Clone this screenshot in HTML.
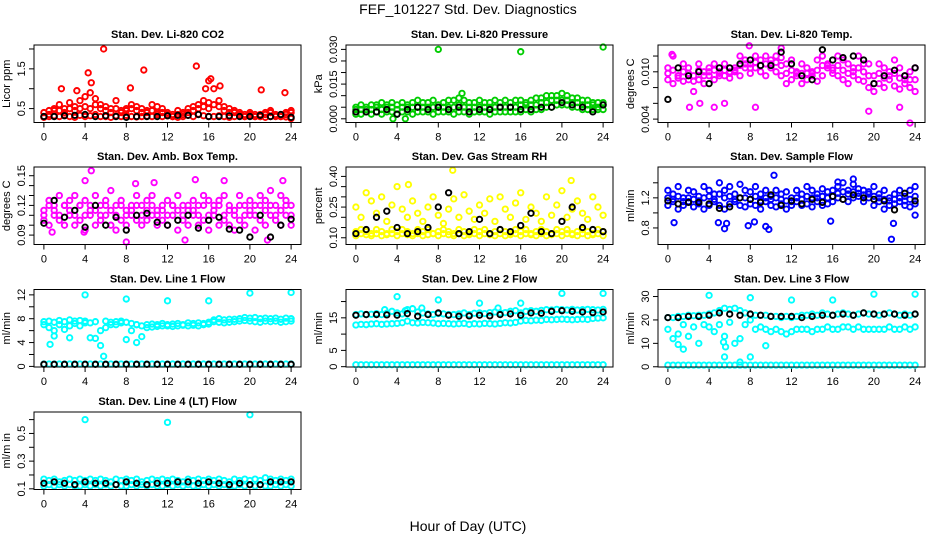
<!DOCTYPE html>
<html><head><meta charset="utf-8"><style>
html,body{margin:0;padding:0;background:#fff;}
svg{display:block;font-family:"Liberation Sans",Arial,sans-serif;}
</style></head><body>
<svg id="chart" width="936" height="540" viewBox="0 0 936 540" xmlns="http://www.w3.org/2000/svg">
<rect width="936" height="540" fill="#fff"/>
<text x="468" y="14" font-size="14" text-anchor="middle">FEF_101227  Std. Dev. Diagnostics</text>
<text x="468" y="531" font-size="14" text-anchor="middle">Hour of Day (UTC)</text>
</svg>
<script>
// ---- data ----
const xTicks = [0,4,8,12,16,20,24];
// CO2
const co2Band = [0.3,0.35,0.45,0.6,0.5,0.65,0.55,0.7,0.8,0.9,0.75,0.6,0.55,0.5,0.7,0.45,0.5,0.6,0.55,0.5,0.45,0.6,0.55,0.5,0.4,0.35,0.45,0.4,0.5,0.55,0.6,0.7,0.65,1.0,0.7,0.55,0.5,0.45,0.4,0.35,0.4,0.35,0.3,0.4,0.45,0.35,0.3,0.4,0.45];
const co2Mid = [0.4,0.45,0.5,0.45,0.4,0.5,0.45,0.5,0.55,0.5,0.6,0.5,0.45,0.4,0.5,0.4,0.45,0.5,0.45,0.4,0.4,0.45,0.4,0.4,0.35,0.3,0.35,0.35,0.4,0.45,0.5,0.55,0.5,0.6,0.55,0.45,0.4,0.4,0.35,0.3,0.35,0.3,0.35,0.35,0.4,0.3,0.35,0.35,0.4];
const co2Base = [0.28,0.3,0.32,0.3,0.34,0.3,0.28,0.33,0.3,0.32,0.35,0.3,0.3,0.28,0.32,0.3,0.33,0.3,0.29,0.3,0.31,0.3,0.35,0.3,0.32,0.3,0.28,0.3,0.33,0.3,0.36,0.32,0.3,0.3,0.32,0.3,0.28,0.3,0.31,0.3,0.32,0.3,0.3,0.28,0.3,0.31,0.3,0.29,0.25];
const co2Out = [[4.3,1.4],[5.8,2.0],[9.7,1.47],[14.8,1.57],[16,1.2],[16.2,1.25],[3.2,0.95],[1.7,1.0],[21.1,0.97],[23.4,0.9],[4.6,1.15],[8.4,1.02],[17.1,1.07],[15.7,1.0]];
const co2Black = [0.3,0.3,0.32,0.33,0.35,0.3,0.32,0.3,0.28,0.3,0.3,0.3,0.32,0.33,0.33,0.35,0.3,0.3,0.32,0.3,0.3,0.33,0.3,0.35,0.28];
// Pressure
const presHi = [0.005,0.006,0.005,0.006,0.006,0.007,0.006,0.007,0.006,0.007,0.006,0.007,0.008,0.007,0.007,0.008,0.006,0.007,0.008,0.008,0.009,0.008,0.007,0.007,0.008,0.007,0.007,0.008,0.007,0.008,0.007,0.008,0.008,0.007,0.008,0.009,0.009,0.010,0.010,0.010,0.011,0.010,0.009,0.009,0.008,0.008,0.007,0.007,0.007];
const presLo = [0.002,0.002,0.003,0.002,0.003,0.002,0.003,0.003,0.002,0.003,0.003,0.002,0.003,0.003,0.003,0.002,0.003,0.003,0.003,0.002,0.003,0.003,0.002,0.003,0.003,0.003,0.002,0.003,0.003,0.003,0.003,0.003,0.003,0.004,0.003,0.004,0.004,0.005,0.005,0.006,0.006,0.006,0.005,0.005,0.004,0.004,0.004,0.004,0.004];
const presMid = [0.004,0.004,0.004,0.004,0.005,0.004,0.005,0.005,0.004,0.005,0.005,0.005,0.005,0.005,0.005,0.005,0.005,0.005,0.005,0.005,0.006,0.005,0.005,0.005,0.005,0.005,0.005,0.005,0.005,0.005,0.005,0.005,0.006,0.006,0.006,0.006,0.007,0.007,0.008,0.008,0.008,0.008,0.007,0.007,0.006,0.006,0.006,0.005,0.006];
const presOut = [[8,0.030],[16,0.029],[24,0.031],[10.3,0.011],[3.6,0.0],[4.8,0.0]];
const presBlack = [0.003,0.003,0.003,0.004,0.002,0.004,0.005,0.004,0.005,0.004,0.005,0.003,0.004,0.004,0.005,0.005,0.004,0.004,0.005,0.005,0.007,0.006,0.005,0.003,0.006];
// Li-820 temp
const ltHi = [0.0105,0.012,0.0095,0.011,0.0105,0.0095,0.011,0.01,0.0105,0.011,0.0095,0.011,0.01,0.0105,0.012,0.0115,0.011,0.012,0.0115,0.012,0.0115,0.012,0.0118,0.011,0.0115,0.01,0.011,0.0105,0.01,0.0115,0.012,0.011,0.0105,0.012,0.0115,0.011,0.0105,0.012,0.011,0.011,0.0095,0.011,0.0105,0.01,0.0115,0.0105,0.0095,0.01,0.0105];
const ltMid = [0.0098,0.0102,0.0092,0.01,0.0098,0.0088,0.0102,0.0095,0.01,0.0102,0.0098,0.0102,0.0098,0.0102,0.0108,0.011,0.0105,0.0112,0.0108,0.011,0.011,0.0112,0.0108,0.0098,0.0102,0.0098,0.0098,0.0098,0.0098,0.0102,0.0108,0.0108,0.0102,0.0108,0.0102,0.0098,0.01,0.0105,0.01,0.0095,0.0085,0.0098,0.0092,0.0095,0.0098,0.0092,0.009,0.009,0.009];
const ltLo = [0.009,0.0085,0.0095,0.0088,0.009,0.0075,0.009,0.0085,0.0095,0.009,0.01,0.0095,0.0092,0.01,0.0095,0.0105,0.0098,0.0105,0.01,0.0095,0.0105,0.01,0.0095,0.0085,0.009,0.0095,0.0085,0.009,0.0095,0.0088,0.0095,0.0105,0.0098,0.0095,0.009,0.0085,0.0095,0.009,0.0088,0.008,0.0075,0.0085,0.008,0.009,0.0082,0.0078,0.0085,0.008,0.0075];
const ltOut = [[2.1,0.0055],[3.1,0.006],[4.5,0.0055],[5.5,0.006],[8.5,0.0055],[19.5,0.005],[22.5,0.0055],[23.5,0.0035],[7.9,0.0133],[0.4,0.0122],[11,0.013]];
const ltBlack = [0.0065,0.0105,0.0095,0.010,0.0085,0.0105,0.0105,0.011,0.0115,0.0108,0.0108,0.0125,0.011,0.0095,0.009,0.0128,0.0115,0.0118,0.012,0.0115,0.0085,0.0095,0.0102,0.0095,0.0105];
// Amb box temp
const abHi = [0.115,0.125,0.12,0.13,0.12,0.125,0.13,0.12,0.125,0.115,0.13,0.12,0.125,0.135,0.12,0.125,0.115,0.12,0.13,0.12,0.125,0.13,0.115,0.12,0.125,0.12,0.13,0.12,0.115,0.125,0.12,0.13,0.125,0.12,0.125,0.13,0.12,0.115,0.13,0.12,0.125,0.12,0.13,0.125,0.135,0.12,0.13,0.125,0.12];
const abMid = [0.11,0.12,0.115,0.11,0.12,0.115,0.11,0.12,0.11,0.12,0.115,0.11,0.12,0.115,0.11,0.12,0.11,0.115,0.12,0.11,0.115,0.12,0.11,0.115,0.11,0.12,0.115,0.11,0.12,0.115,0.11,0.12,0.11,0.115,0.12,0.11,0.115,0.11,0.12,0.11,0.115,0.11,0.12,0.115,0.12,0.11,0.115,0.12,0.11];
const abLo = [0.105,0.1,0.11,0.105,0.1,0.11,0.1,0.105,0.095,0.11,0.1,0.105,0.11,0.1,0.095,0.105,0.1,0.11,0.105,0.1,0.105,0.11,0.1,0.105,0.1,0.11,0.095,0.105,0.1,0.11,0.1,0.105,0.095,0.11,0.1,0.105,0.1,0.095,0.105,0.1,0.11,0.095,0.105,0.1,0.11,0.105,0.1,0.11,0.1];
const abOut = [[4,0.145],[4.6,0.155],[8.9,0.142],[10.7,0.143],[14.7,0.146],[17.5,0.145],[8,0.083],[13.7,0.085],[21.7,0.085],[0.8,0.093],[3.9,0.093],[23.2,0.145]];
const abBlack = [0.102,0.125,0.108,0.115,0.098,0.12,0.1,0.108,0.095,0.11,0.112,0.103,0.1,0.105,0.11,0.097,0.105,0.108,0.096,0.095,0.088,0.11,0.088,0.1,0.106];
// RH
const rhLo = [0.13,0.14,0.13,0.12,0.14,0.13,0.12,0.14,0.13,0.14,0.13,0.12,0.14,0.13,0.14,0.12,0.13,0.14,0.13,0.12,0.14,0.13,0.12,0.14,0.13,0.14,0.12,0.13,0.14,0.13,0.12,0.14,0.13,0.14,0.12,0.13,0.14,0.13,0.12,0.14,0.13,0.14,0.12,0.13,0.14,0.13,0.12,0.14,0.13];
const rhMid = [0.11,0.12,0.115,0.11,0.12,0.11,0.115,0.12,0.11,0.12,0.115,0.11,0.12,0.11,0.115,0.12,0.11,0.12,0.115,0.11,0.12,0.11,0.115,0.12,0.11,0.12,0.115,0.11,0.12,0.11,0.115,0.12,0.11,0.12,0.115,0.11,0.12,0.11,0.115,0.12,0.11,0.12,0.115,0.11,0.12,0.11,0.115,0.12,0.11];
const rhHi = [0.25,0.2,0.32,0.28,0.22,0.3,0.18,0.26,0.35,0.24,0.2,0.28,0.22,0.18,0.25,0.3,0.21,0.17,0.24,0.29,0.2,0.31,0.23,0.19,0.26,0.22,0.29,0.18,0.3,0.24,0.2,0.27,0.32,0.19,0.25,0.22,0.18,0.3,0.21,0.26,0.33,0.2,0.24,0.28,0.22,0.19,0.3,0.25,0.21];
const rhOut = [[9.4,0.43],[20.9,0.38],[5.1,0.36]];
const rhBlack = [0.12,0.14,0.2,0.23,0.15,0.12,0.13,0.15,0.25,0.32,0.12,0.13,0.19,0.12,0.14,0.13,0.16,0.22,0.13,0.12,0.18,0.25,0.15,0.14,0.13];
// Sample flow
const sfHi = [1.3,1.25,1.35,1.2,1.3,1.28,1.22,1.35,1.3,1.25,1.4,1.3,1.35,1.25,1.38,1.3,1.28,1.35,1.25,1.3,1.22,1.3,1.25,1.28,1.2,1.3,1.25,1.35,1.3,1.25,1.32,1.28,1.3,1.35,1.4,1.3,1.38,1.32,1.3,1.28,1.35,1.25,1.3,1.2,1.25,1.3,1.22,1.3,1.35];
const sfMid = [1.2,1.18,1.22,1.15,1.2,1.18,1.16,1.2,1.22,1.18,1.25,1.2,1.22,1.18,1.2,1.2,1.18,1.22,1.16,1.2,1.18,1.2,1.18,1.16,1.15,1.2,1.18,1.22,1.2,1.2,1.22,1.2,1.22,1.26,1.28,1.25,1.28,1.26,1.24,1.25,1.22,1.2,1.18,1.16,1.18,1.2,1.16,1.18,1.22];
const sfLo = [1.1,1.15,1.05,1.1,1.15,1.08,1.12,1.05,1.1,1.15,1.1,1.05,1.12,1.15,1.1,1.08,1.12,1.1,1.05,1.15,1.1,1.08,1.12,1.05,1.1,1.15,1.1,1.12,1.08,1.15,1.1,1.12,1.15,1.2,1.18,1.15,1.2,1.22,1.15,1.2,1.1,1.15,1.05,1.1,1.12,1.15,1.1,1.08,1.12];
const sfOut = [[0.6,0.87],[4.9,0.87],[5.5,0.79],[5.7,0.86],[7.8,0.83],[9.5,0.82],[9.8,0.78],[8.4,0.88],[15.8,0.89],[21.7,0.65],[21.9,0.86],[24,0.97],[10.3,1.5],[16.5,1.41],[18,1.45]];
const sfBlack = [1.16,1.12,1.14,1.14,1.12,1.06,1.08,1.2,1.18,1.14,1.24,1.1,1.16,1.12,1.18,1.14,1.22,1.18,1.24,1.2,1.18,1.16,1.04,1.26,1.16];
// Line 1
const l1Hi = [7.5,7.6,7.4,7.7,7.5,7.8,7.6,7.7,7.6,7.3,7.5,6.0,7.6,7.4,7.5,7.6,7.4,7.2,7.0,6.8,7.0,7.1,7.0,7.2,7.0,7.1,7.2,7.0,7.3,7.2,7.3,7.2,7.4,7.8,8.0,7.8,7.9,7.9,8.0,8.2,8.1,8.2,8.0,8.1,8.0,8.1,7.9,8.1,8.0];
const l1Lo = [7.0,6.5,6.0,7.0,6.2,6.8,7.2,6.8,7.3,4.8,4.7,3.5,6.5,7.0,7.0,7.3,4.5,6.0,7.0,5.0,6.5,6.6,6.7,6.8,6.8,6.7,6.8,6.9,6.8,6.9,6.8,7.0,7.1,7.5,7.4,7.3,7.4,7.5,7.6,7.7,7.6,7.5,7.4,7.6,7.5,7.6,7.4,7.5,7.6];
const l1Out = [[4,12],[8,11.3],[12,11],[16,11],[20,12.3],[24,12.4],[0.6,3.7],[5.8,1.7],[9,4],[1,5.1],[2.5,4.8]];
const l1Base = [0.4,0.4,0.4,0.4,0.4,0.4,0.4,0.4,0.4,0.4,0.4,0.4,0.4,0.4,0.4,0.4,0.4,0.4,0.4,0.4,0.4,0.4,0.4,0.4,0.4,0.4,0.4,0.4,0.4,0.4,0.4,0.4,0.4,0.4,0.4,0.4,0.4,0.4,0.4,0.4,0.4,0.4,0.4,0.4,0.4,0.4,0.4,0.4,0.4];
const l1Black = [0.35,0.35,0.35,0.35,0.35,0.35,0.35,0.35,0.35,0.35,0.35,0.35,0.35,0.35,0.35,0.35,0.35,0.35,0.35,0.35,0.35,0.35,0.35,0.35,0.35];
// Line 2
const l2Hi = [16,16.2,16,16.1,16.3,16,16.4,17,16.5,16.2,17.5,17.8,16.8,16.5,16.2,16,16.3,16.2,16,16,16.2,16.5,16,16.4,16.5,16.3,16.6,16.8,16.5,16.6,17,17.2,16.5,17,17.2,17,17.3,17.5,17.4,17.6,17.5,17.4,17.6,17.4,17.5,17.6,17.5,17.4,17.6];
const l2Lo = [12.8,13,12.9,13.1,13.2,13,13.1,13.2,13.3,13.5,14,13.5,13.4,13.6,13.5,13.4,13.2,13.3,13.2,13.1,13.2,13.3,13,13.2,13.1,13.3,13.2,13.1,13.3,13.5,13.4,13.6,14,14.2,14.1,14.3,14.2,14.5,14.4,14.5,14.6,14.5,14.4,14.5,14.6,14.5,14.8,14.9,15];
const l2Out = [[4,21.5],[8,20.5],[12,19.5],[16,19.5],[20,22.5],[24,22.5],[2.8,17.5],[4.8,17.2],[6.4,18],[13.8,18]];
const l2Base = [0.6,0.6,0.6,0.6,0.6,0.6,0.6,0.6,0.6,0.6,0.6,0.6,0.6,0.6,0.6,0.6,0.6,0.6,0.6,0.6,0.6,0.6,0.6,0.6,0.6,0.6,0.6,0.6,0.6,0.6,0.6,0.6,0.6,0.6,0.6,0.6,0.6,0.6,0.6,0.6,0.6,0.6,0.6,0.6,0.6,0.6,0.6,0.6,0.6];
const l2Black = [15.8,16,16,15.9,15.8,16.3,15.5,16,16.5,15.8,15.5,15.6,15.8,15.6,16,16.2,15.8,16.5,16.4,17,17.2,17,16.8,16.6,16.8];
// Line 3
const l3Hi = [21,21,21.5,21.5,22,21.8,22,22,22.5,23,24,25,24.5,25,24,23,22.5,22,22,22,21.5,21.5,21,21.5,21,21.5,22,22,22.5,22,23,22.5,22,22.5,23,22.5,22,22.5,23,22.5,22.5,22,22.5,23,22.5,22,22.5,22,22.5];
const l3Lo = [16,12,14,18,13,17,10,18,17,15,18,13,19,10,12,18,20,16,17,16,15,16,15,14,15,16,16,16,15,16,16,17,16,16,17,17,16,17,16,16,16,16,16,17,16,16,17,16,17];
const l3Out = [[4,30.5],[8,29.5],[12,28.5],[16,28.5],[20,31],[24,31],[5.5,4.2],[8,4.2],[1,9.5],[1.5,7.5],[9.5,9],[5.6,8.5],[5.4,10.5],[7,2]];
const l3Base = [0.7,0.7,0.7,0.7,0.7,0.7,0.7,0.7,0.7,0.7,0.7,0.7,0.7,0.7,0.7,0.7,0.7,0.7,0.7,0.7,0.7,0.7,0.7,0.7,0.7,0.7,0.7,0.7,0.7,0.7,0.7,0.7,0.7,0.7,0.7,0.7,0.7,0.7,0.7,0.7,0.7,0.7,0.7,0.7,0.7,0.7,0.7,0.7,0.7];
const l3Black = [21,21,21.5,21.5,22,23,22.5,22,22.5,22,21.5,21.5,21.5,21,21.5,22,22,22.5,22,23,22.5,22.5,22.5,22,22.5];
// Line 4
const l4Hi = [0.17,0.16,0.17,0.15,0.16,0.17,0.16,0.17,0.16,0.17,0.16,0.17,0.16,0.15,0.17,0.16,0.17,0.16,0.17,0.15,0.16,0.17,0.16,0.17,0.16,0.17,0.16,0.15,0.17,0.16,0.17,0.16,0.17,0.16,0.17,0.16,0.15,0.17,0.16,0.17,0.16,0.17,0.16,0.18,0.17,0.16,0.17,0.16,0.17];
const l4Lo = [0.12,0.13,0.12,0.13,0.12,0.13,0.12,0.12,0.13,0.12,0.13,0.12,0.13,0.12,0.13,0.12,0.12,0.13,0.12,0.13,0.12,0.13,0.12,0.12,0.13,0.12,0.13,0.12,0.13,0.12,0.12,0.13,0.12,0.13,0.12,0.13,0.12,0.12,0.13,0.12,0.13,0.12,0.13,0.12,0.12,0.13,0.12,0.13,0.12];
const l4Out = [[4,0.6],[12,0.58],[20,0.635]];
const l4Black = [0.14,0.15,0.14,0.13,0.15,0.14,0.14,0.13,0.15,0.14,0.13,0.14,0.14,0.15,0.15,0.14,0.15,0.14,0.13,0.14,0.13,0.13,0.15,0.15,0.15];

// tick values / labels
const co2Ticks=[0.5,1,1.5,2], co2Labels=["0.5","","1.5",""];
const presTicks=[0,0.005,0.01,0.015,0.02,0.025,0.03], presLabels=["0.000","","","0.015","","","0.030"];
const ltTicks=[0.004,0.006,0.008,0.010,0.012], ltLabels=["0.004","","","0.010",""];
const abTicks=[0.09,0.1,0.11,0.12,0.13,0.14,0.15], abLabels=["0.09","","","0.12","","","0.15"];
const rhTicks=[0.1,0.15,0.2,0.25,0.3,0.35,0.4], rhLabels=["0.10","","","0.25","","","0.40"];
const sfTicks=[0.8,1.0,1.2,1.4], sfLabels=["0.8","","1.2",""];
const l1Ticks=[0,2,4,6,8,10,12], l1Labels=["0","","4","","8","","12"];
const l2Ticks=[0,5,10,15,20], l2Labels=["0","5","","15",""];
const l3Ticks=[0,10,20,30], l3Labels=["0","10","20","30"];
const l4Ticks=[0.1,0.2,0.3,0.4,0.5,0.6], l4Labels=["0.1","","0.3","","0.5",""];

const RED="#ff0000",GRN="#00cd00",MAG="#ff00ff",YEL="#ffff00",BLU="#0000ff",CYN="#00ffff";
const panels = [
 {name:"co2",title:"Stan. Dev. Li-820 CO2",ylab:"Licor ppm",col:0,row:0,y0:0.15,y1:2.1,ticks:co2Ticks,labels:co2Labels,color:RED,half:[co2Band,co2Mid,co2Base],out:co2Out,black:co2Black},
 {name:"pressure",title:"Stan. Dev. Li-820 Pressure",ylab:"kPa",col:1,row:0,y0:-0.0016,y1:0.0319,ticks:presTicks,labels:presLabels,color:GRN,half:[presHi,presMid,presLo],out:presOut,black:presBlack},
 {name:"li820-temp",title:"Stan. Dev. Li-820 Temp.",ylab:"degrees C",col:2,row:0,y0:0.00357,y1:0.0134,ticks:ltTicks,labels:ltLabels,color:MAG,half:[ltHi,ltMid,ltLo],out:ltOut,black:ltBlack},
 {name:"amb-box-temp",title:"Stan. Dev. Amb. Box Temp.",ylab:"degrees C",col:0,row:1,y0:0.0805,y1:0.1588,ticks:abTicks,labels:abLabels,color:MAG,half:[abHi,abMid,abLo],out:abOut,black:abBlack},
 {name:"gas-stream-rh",title:"Stan. Dev. Gas Stream RH",ylab:"percent",col:1,row:1,y0:0.067,y1:0.446,ticks:rhTicks,labels:rhLabels,color:YEL,half:[rhLo,rhMid,rhHi],out:rhOut,black:rhBlack},
 {name:"sample-flow",title:"Stan. Dev. Sample Flow",ylab:"ml/min",col:2,row:1,y0:0.58,y1:1.61,ticks:sfTicks,labels:sfLabels,color:BLU,half:[sfHi,sfMid,sfLo],out:sfOut,black:sfBlack},
 {name:"line1-flow",title:"Stan. Dev. Line 1 Flow",ylab:"ml/min",col:0,row:2,y0:-0.1,y1:12.9,ticks:l1Ticks,labels:l1Labels,color:CYN,half:[l1Hi,l1Lo,l1Base],out:l1Out,black:l1Black},
 {name:"line2-flow",title:"Stan. Dev. Line 2 Flow",ylab:"ml/min",col:1,row:2,y0:-0.1,y1:23.7,ticks:l2Ticks,labels:l2Labels,color:CYN,half:[l2Hi,l2Lo,l2Base],out:l2Out,black:l2Black},
 {name:"line3-flow",title:"Stan. Dev. Line 3 Flow",ylab:"ml/min",col:2,row:2,y0:-0.1,y1:33,ticks:l3Ticks,labels:l3Labels,color:CYN,half:[l3Hi,l3Lo,l3Base],out:l3Out,black:l3Black},
 {name:"line4-flow",title:"Stan. Dev. Line 4 (LT) Flow",ylab:"ml/m in",col:0,row:3,y0:0.095,y1:0.655,ticks:l4Ticks,labels:l4Labels,color:CYN,half:[l4Hi,l4Lo],out:l4Out,black:l4Black}
];
const NS="http://www.w3.org/2000/svg";
const svg=document.getElementById('chart');
function mk(tag,attrs,parent){const e=document.createElementNS(NS,tag);for(const k in attrs)e.setAttribute(k,attrs[k]);parent.appendChild(e);return e;}
const rowTops=[45,167,289.5,412], BH=77.5, BW=267;
panels.forEach(p=>{
  const L=p.col*312+34, T=rowTops[p.row];
  const g=mk('g',{},svg);
  
  
  const xs=h=>L+(h+0.96)/25.92*BW;
  const ys=v=>T+BH-(v-p.y0)/(p.y1-p.y0)*BH;
  const t=mk('text',{x:L+BW/2,y:T-7,'font-size':11,'font-weight':'bold','text-anchor':'middle'},g);
  t.textContent=p.title;
  
  
  const yl=mk('text',{x:0,y:0,'font-size':11,'text-anchor':'middle',transform:`translate(${L-24},${T+BH/2}) rotate(-90)`},g);
  yl.textContent=p.ylab;
  
  
  const xa=mk('g',{},g);
  
  
  mk('line',{x1:xs(xTicks[0]),x2:xs(xTicks[xTicks.length-1]),y1:T+BH,y2:T+BH,stroke:'#000'},xa);
  xTicks.forEach(v=>{
    mk('line',{x1:xs(v),x2:xs(v),y1:T+BH,y2:T+BH+5,stroke:'#000'},xa);
    const lb=mk('text',{x:xs(v),y:T+BH+18,'font-size':11,'text-anchor':'middle'},xa);lb.textContent=v;
  });
  const ya=mk('g',{},g);
  
  
  const tv=p.ticks.filter(v=>v>=p.y0&&v<=p.y1);
  mk('line',{x1:L,x2:L,y1:ys(tv[0]),y2:ys(tv[tv.length-1]),stroke:'#000'},ya);
  p.ticks.forEach((v,i)=>{
    if(v<p.y0||v>p.y1)return;
    mk('line',{x1:L-5,x2:L,y1:ys(v),y2:ys(v),stroke:'#000'},ya);
    if(p.labels[i]){const lb=mk('text',{x:0,y:0,'font-size':11,'text-anchor':'middle',transform:`translate(${L-9},${ys(v)}) rotate(-90)`},ya);lb.textContent=p.labels[i];}
  });
  const pts=mk('g',{fill:'none','stroke-width':1.9},g);
  
  
  p.half.forEach(arr=>arr.forEach((v,i)=>{
    const c=mk('circle',{cx:xs(i*0.5),cy:ys(v),r:2.7,stroke:p.color},pts);
    
    
  }));
  p.out.forEach(o=>{
    const c=mk('circle',{cx:xs(o[0]),cy:ys(o[1]),r:2.7,stroke:p.color},pts);
    
    
  });
  p.black.forEach((v,i)=>{
    const c=mk('circle',{cx:xs(i),cy:ys(v),r:2.7,stroke:'#000'},pts);
    
    
  });
  const box=mk('rect',{x:L,y:T,width:BW,height:BH,fill:'none',stroke:'#000'},g);
  
  
});
</script>
</body></html>
